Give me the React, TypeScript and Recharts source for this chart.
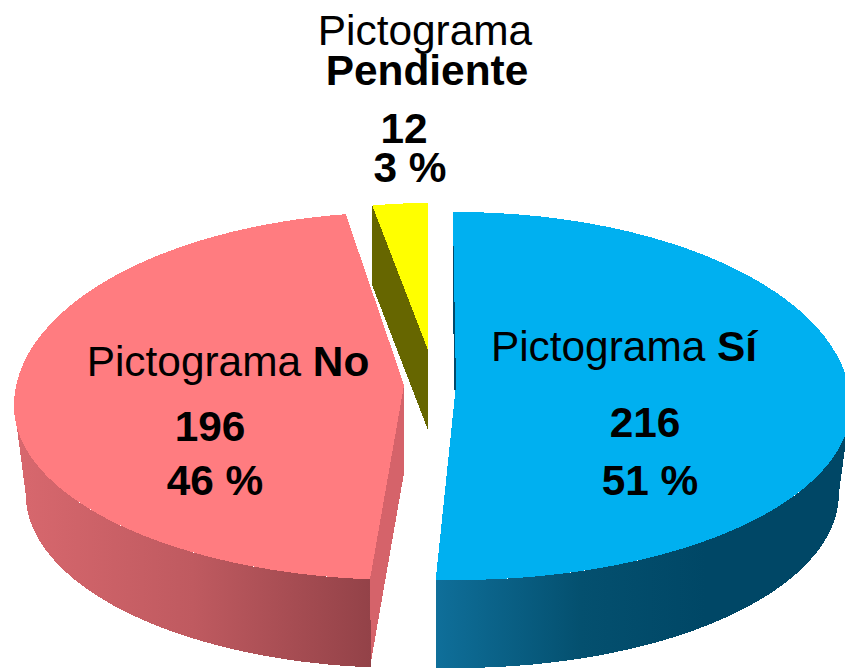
import React from 'react';
import { PieChart, Pie, Cell } from 'recharts';

// Pendiente comes first so it is painted behind the other two slices
const categories = ['Pendiente', 'Sí', 'No'];
const counts = [12, 216, 196];
const topColors = ['#ffff00', '#00b0f0', '#ff7c80'];
const cutColors = ['#666600', '#004a6c', '#d5636a'];

const total = counts.reduce((a, b) => a + b, 0);
const pieData = categories.map((name, i) => ({ name, value: counts[i] }));
const firstAngle = 90 + (counts[0] / total) * 360;

// Look of the fake 3D pie
const FONT = '"Liberation Sans", Arial, sans-serif';
const RIM_DROP = 21; // the rim's widest line sits below the apex (perspective)
const FAR_SIDE = 194;
const NEAR_SIDE = 174;
const FOOT = 0.97; // bottom rim is a bit narrower than the top one

const explode: Record<string, { dx: number; dy: number; scale: number; wide: number; turn: number; depth: number }> = {
    'Sí': { dx: 0, dy: 0, scale: 1, wide: 1.012, turn: 0.45, depth: 88 },
    'No': { dx: -52, dy: 0, scale: 1, wide: 1, turn: -1.6, depth: 88 },
    'Pendiente': { dx: -28, dy: -35, scale: 0.85, wide: 0.95, turn: 0, depth: 80 },
};

const labelSpots: Record<string, { title: [number, number]; count: [number, number]; pct: [number, number] }> = {
    'Sí': { title: [624, 361], count: [645, 437], pct: [650, 495] },
    'No': { title: [228, 376], count: [210, 441], pct: [215, 495] },
    'Pendiente': { title: [425, 45], count: [404, 143], pct: [410, 182] },
};

const SliceShape = (props: any) => {
    const { cx, cy, outerRadius, startAngle, endAngle, name, fill, index } = props;
    const { dx, dy, scale, wide, turn, depth } = explode[name];
    const ox = cx + dx;
    const oy = cy + dy;
    const r = outerRadius * scale * wide;
    const start = startAngle + turn;
    const end = endAngle + turn;

    const rim = (deg: number, foot = false) => {
        const a = (deg * Math.PI) / 180;
        const s = Math.sin(a);
        const w = foot ? FOOT : 1;
        const side = (s > 0 ? FAR_SIDE : NEAR_SIDE) * scale;
        return [ox + r * w * Math.cos(a), oy + RIM_DROP * scale + (foot ? depth : 0) - side * s];
    };
    const sweep = (from: number, to: number, foot = false) => {
        const pts: number[][] = [];
        const n = Math.max(2, Math.ceil(Math.abs(to - from)));
        for (let i = 0; i <= n; i++) pts.push(rim(from + ((to - from) * i) / n, foot));
        return pts;
    };
    const toPath = (pts: number[][]) => 'M' + pts.map((p) => p[0].toFixed(1) + ',' + p[1].toFixed(1)).join('L') + 'Z';

    const top = [[ox, oy], ...sweep(start, end)];
    const cut = (deg: number) => {
        const p = rim(deg);
        return [[ox, oy], p, [p[0], p[1] + depth], [ox, oy + depth]];
    };
    const wallFrom = Math.min(start, 0);
    const wallTo = Math.max(end, -180);
    const wall = wallFrom > wallTo ? [...sweep(wallFrom, wallTo), ...sweep(wallTo, wallFrom, true)] : null;

    return (
        <g shapeRendering="crispEdges">
            <path d={toPath(cut(start))} fill={cutColors[index]} />
            <path d={toPath(cut(end))} fill={cutColors[index]} />
            {wall && <path d={toPath(wall)} fill={`url(#wall-${name === 'Sí' ? 'si' : 'no'})`} />}
            <path d={toPath(top)} fill={fill} />
        </g>
    );
};

const renderLabel = (props: any) => {
    const { name, value, percent } = props;
    const spot = labelSpots[name];
    const base = { fontFamily: FONT, fontSize: 42.4, fill: '#000', textAnchor: 'middle' as const };
    return (
        <g>
            {name === 'Pendiente' ? (
                <>
                    <text {...base} x={spot.title[0]} y={spot.title[1]}>Pictograma</text>
                    <text {...base} x={spot.title[0] + 2} y={spot.title[1] + 40} fontWeight="bold">{name}</text>
                </>
            ) : (
                <text {...base} x={spot.title[0]} y={spot.title[1]}>
                    Pictograma <tspan fontWeight="bold">{name}</tspan>
                </text>
            )}
            <text {...base} x={spot.count[0]} y={spot.count[1]} fontWeight="bold">{value}</text>
            <text {...base} x={spot.pct[0]} y={spot.pct[1]} fontWeight="bold">{Math.round(percent * 100)} %</text>
        </g>
    );
};

export default function App() {
    return (
        <div style={{ position: 'absolute', left: 0, top: 0, width: 845, height: 669, overflow: 'hidden', background: '#fff' }}>
            <PieChart width={845} height={669} margin={{ top: 0, right: 0, bottom: 0, left: 0 }}>
                <defs>
                    <linearGradient id="wall-si" x1="0" y1="0" x2="1" y2="0">
                        <stop offset="0%" stopColor="#0f6f9a" />
                        <stop offset="35%" stopColor="#04506f" />
                        <stop offset="65%" stopColor="#004766" />
                        <stop offset="100%" stopColor="#004766" />
                    </linearGradient>
                    <linearGradient id="wall-no" x1="0" y1="0" x2="1" y2="0">
                        <stop offset="0%" stopColor="#d8686e" />
                        <stop offset="50%" stopColor="#bf5a60" />
                        <stop offset="100%" stopColor="#934248" />
                    </linearGradient>
                </defs>
                <Pie
                    data={pieData}
                    dataKey="value"
                    nameKey="name"
                    cx={456}
                    cy={385}
                    outerRadius={390}
                    startAngle={firstAngle}
                    endAngle={firstAngle - 360}
                    stroke="none"
                    shape={SliceShape}
                    label={renderLabel}
                    labelLine={false}
                    isAnimationActive={false}
                >
                    {categories.map((c, i) => (
                        <Cell key={c} fill={topColors[i]} />
                    ))}
                </Pie>
            </PieChart>
        </div>
    );
}
